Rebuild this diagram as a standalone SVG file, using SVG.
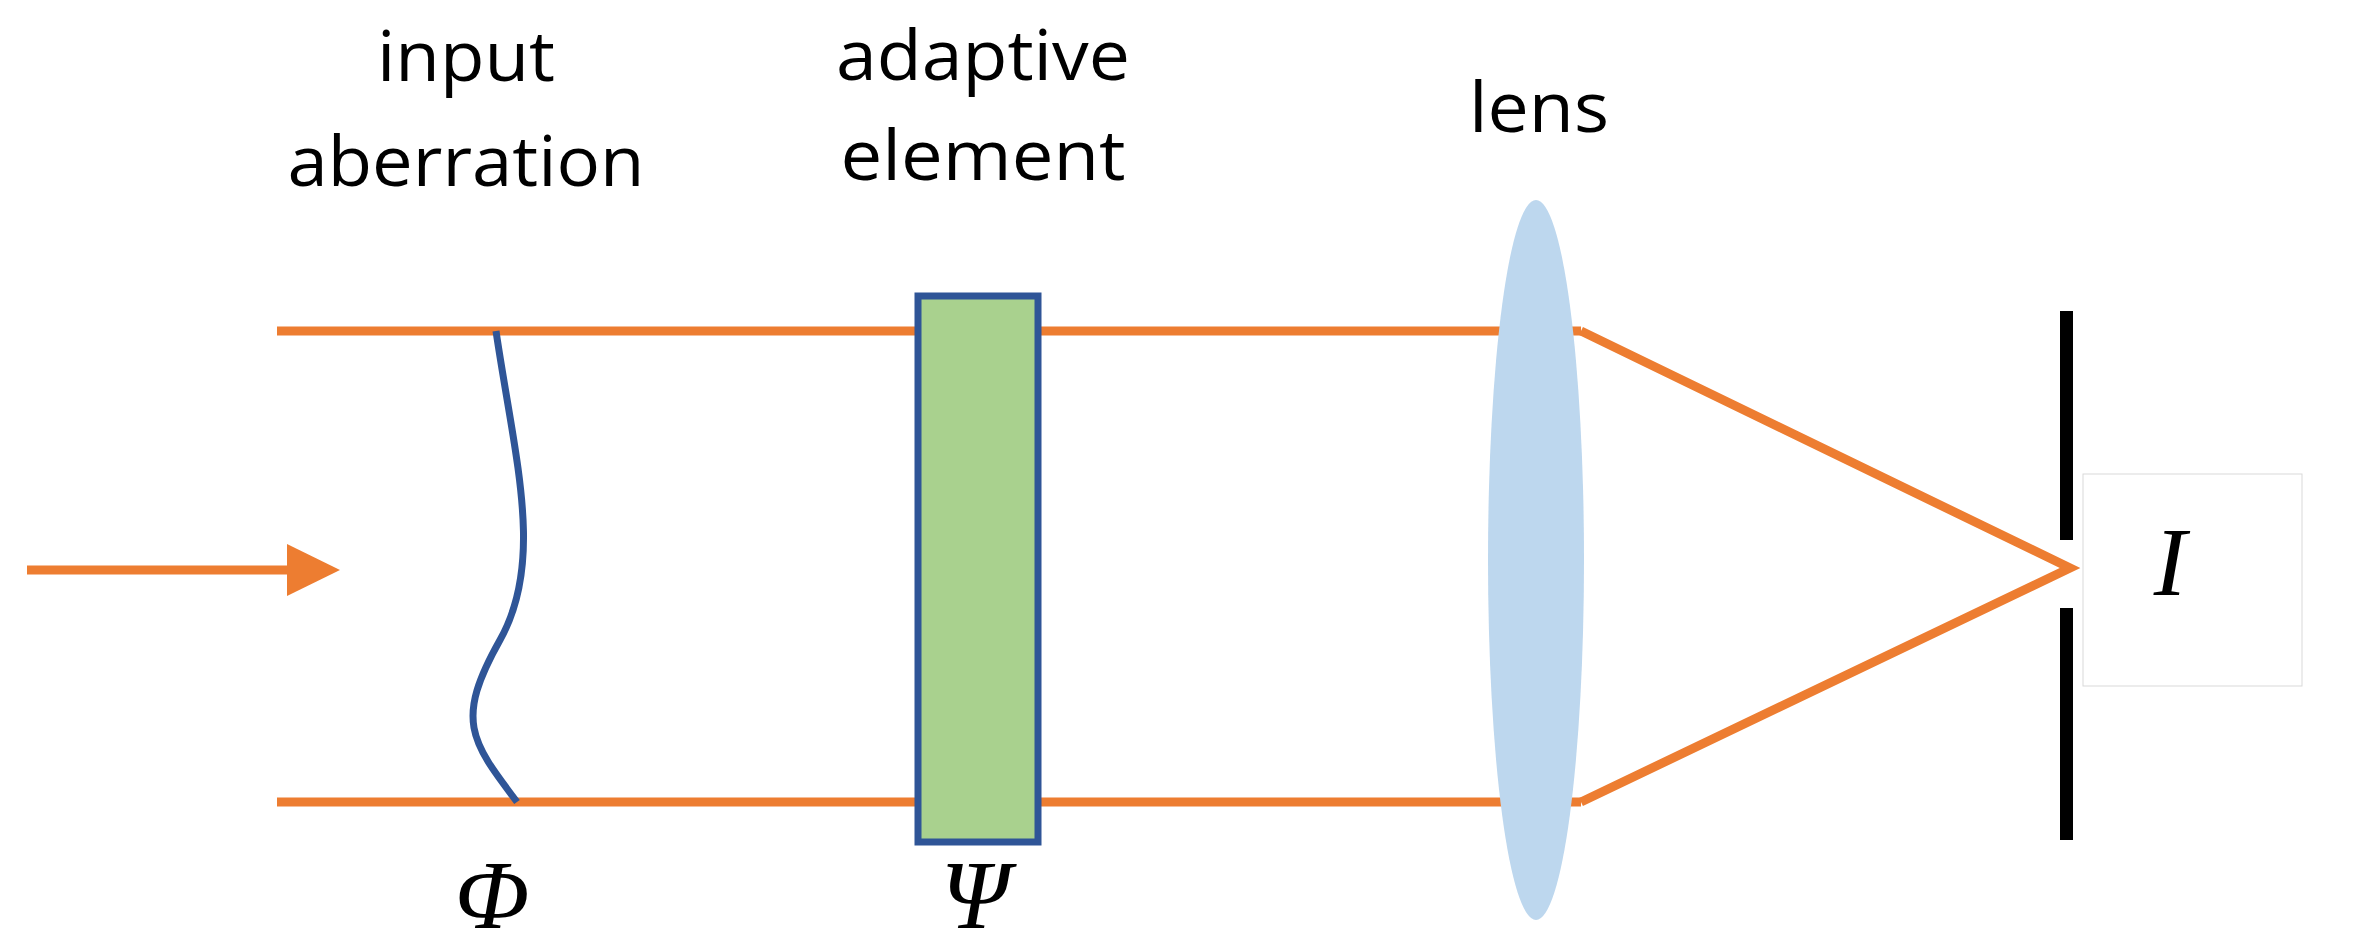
<svg xmlns="http://www.w3.org/2000/svg" width="2360" height="949" viewBox="0 0 2360 949">
<style>
.lbl{font-family:"Open Sans","Liberation Sans",sans-serif;font-size:70px;fill:#000;text-anchor:middle}
.sym{font-family:"Liberation Serif",serif;font-style:italic;font-size:98px;fill:#000;text-anchor:middle}
.beam{stroke:#ED7D31;stroke-width:9;fill:none}
</style>
<rect width="2360" height="949" fill="#fff"/>
<g id="connectors">
<line class="beam" x1="27" y1="570" x2="290" y2="570"/>
<polygon points="287,544 340,570 287,596" fill="#ED7D31"/>
<line class="beam" x1="277" y1="331" x2="1581" y2="331"/>
<line class="beam" x1="277" y1="802" x2="1581" y2="802"/>
<polyline class="beam" points="1581,331 2070,568 1581,802"/>
</g>
<g id="aberration">
<path d="M496,331 C515,460 545,560 500,640 S470,740 517,802" fill="none" stroke="#2F5597" stroke-width="7"/>
<text class="lbl" x="466" y="81" textLength="178" lengthAdjust="spacingAndGlyphs">input</text>
<text class="lbl" x="466" y="186" textLength="357" lengthAdjust="spacingAndGlyphs">aberration</text>
<text class="sym" x="492" y="928">Φ</text>
</g>
<g id="adaptive">
<rect x="918" y="296" width="120" height="546" fill="#A9D18E" stroke="#2F5597" stroke-width="7"/>
<text class="lbl" x="983" y="80" textLength="294" lengthAdjust="spacingAndGlyphs">adaptive</text>
<text class="lbl" x="983" y="180" textLength="285" lengthAdjust="spacingAndGlyphs">element</text>
<text class="sym" x="975" y="928">Ψ</text>
</g>
<g id="lens">
<ellipse cx="1536" cy="560" rx="48" ry="360" fill="#BDD7EE"/>
<text class="lbl" x="1539" y="132" textLength="140" lengthAdjust="spacingAndGlyphs">lens</text>
</g>
<g id="aperture">
<rect x="2060" y="311" width="13" height="229" fill="#000"/>
<rect x="2060" y="608" width="13" height="232" fill="#000"/>
</g>
<g id="detector">
<rect x="2083" y="474" width="219" height="212" fill="#fff" stroke="#d9d9d9" stroke-width="1"/>
<text class="sym" x="2170" y="595" font-size="88">I</text>
</g>
</svg>
